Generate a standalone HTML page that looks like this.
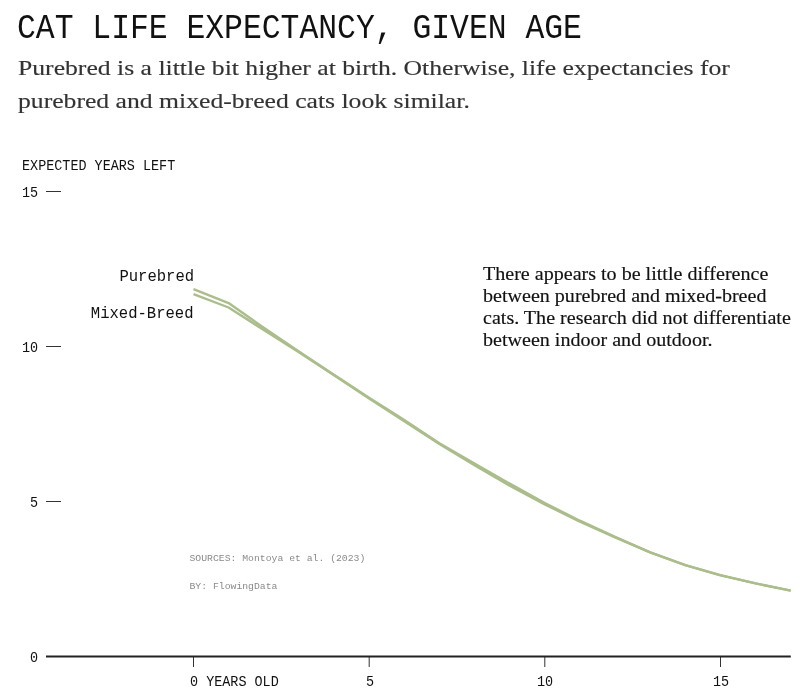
<!DOCTYPE html>
<html lang="en"><head><meta charset="utf-8"><title>Cat Life Expectancy, Given Age</title>
<style>
html,body{margin:0;padding:0;background:#fff;}
body{width:800px;height:699px;position:relative;overflow:hidden;font-family:"Liberation Mono",monospace;color:#111;}
.t{position:absolute;white-space:nowrap;transform-origin:0 0;line-height:1;margin:0;padding:0;}
.r{transform-origin:100% 0;text-align:right;}
.mono{font-family:"Liberation Mono",monospace;}
.serif{font-family:"Liberation Serif",serif;}
#title{left:17px;top:11.6px;font-size:35.4px;transform:scaleX(0.8866);color:#111;font-weight:400;}
.sub{left:18.4px;font-size:21px;color:#333;transform:scaleX(1.222);-webkit-text-stroke:0.15px #333;}
.ann{left:482.6px;font-size:17.8px;color:#111;transform:scaleX(1.128);-webkit-text-stroke:0.15px #111;}
.ax{font-size:15.2px;color:#111;transform:scaleX(0.885);}
.lab{font-size:16.9px;color:#111;transform:scaleX(0.921);right:606.4px;}
.src{font-size:9.78px;color:#8a8a8a;left:189.5px;}
svg{position:absolute;left:0;top:0;}
</style></head><body>
<svg width="800" height="699" viewBox="0 0 800 699">
<g stroke="#333" stroke-width="1" fill="none">
<path d="M46,191.5H61 M46,346.5H61 M46,501.5H61"/>
<path d="M193.5,657V667 M369.2,657V667 M544.8,657V667 M720.5,657V667"/>
</g>
<path d="M46,656.5H790.8" stroke="#222" stroke-width="2" fill="none"/>
<g fill="none" stroke="#aabd8b" stroke-width="2.4" stroke-linejoin="round" stroke-linecap="butt">
<path d="M193.5,294.1 L228.6,307.5 L263.8,330.0 L298.9,352.3 L334.0,375.3 L369.1,398.6 L404.3,421.2 L439.4,443.9 L474.5,465.2 L509.7,485.7 L544.8,504.4 L579.9,521.6 L615.1,537.4 L650.2,552.4 L685.3,565.2 L720.5,575.3 L755.6,583.4 L790.7,590.7"/>
<path d="M193.5,289.1 L228.6,303.1 L263.8,327.8 L298.9,351.5 L334.0,374.8 L369.1,397.7 L404.3,420.1 L439.4,443.3 L474.5,463.5 L509.7,483.6 L544.8,503.1 L579.9,520.7 L615.1,536.8 L650.2,552.3 L685.3,565.1 L720.5,575.2 L755.6,583.4 L790.7,590.7"/>
</g>
</svg>
<h1 class="t mono" id="title">CAT LIFE EXPECTANCY, GIVEN AGE</h1>
<p class="t serif sub" style="top:57.7px">Purebred is a little bit higher at birth. Otherwise, life expectancies for</p>
<p class="t serif sub" style="top:90.7px">purebred and mixed-breed cats look similar.</p>
<div class="t mono ax" style="left:22px;top:159.2px">EXPECTED YEARS LEFT</div>
<div class="t mono ax" style="left:22px;top:186px">15</div>
<div class="t mono ax" style="left:22px;top:341px">10</div>
<div class="t mono ax" style="left:30px;top:496px">5</div>
<div class="t mono ax" style="left:30px;top:651px">0</div>
<div class="t mono ax" style="left:189.5px;top:674.7px">0 YEARS OLD</div>
<div class="t mono ax" style="left:365.5px;top:674.7px">5</div>
<div class="t mono ax" style="left:537px;top:674.7px">10</div>
<div class="t mono ax" style="left:712.5px;top:674.7px">15</div>
<div class="t r mono lab" style="top:268.9px">Purebred</div>
<div class="t r mono lab" style="top:306.4px">Mixed-Breed</div>
<p class="t serif ann" style="top:265.5px">There appears to be little difference</p>
<p class="t serif ann" style="top:287.5px">between purebred and mixed-breed</p>
<p class="t serif ann" style="top:309.5px">cats. The research did not differentiate</p>
<p class="t serif ann" style="top:331.5px">between indoor and outdoor.</p>
<div class="t mono src" style="top:553.5px">SOURCES: Montoya et al. (2023)</div>
<div class="t mono src" style="top:581.7px">BY: FlowingData</div>
</body></html>
